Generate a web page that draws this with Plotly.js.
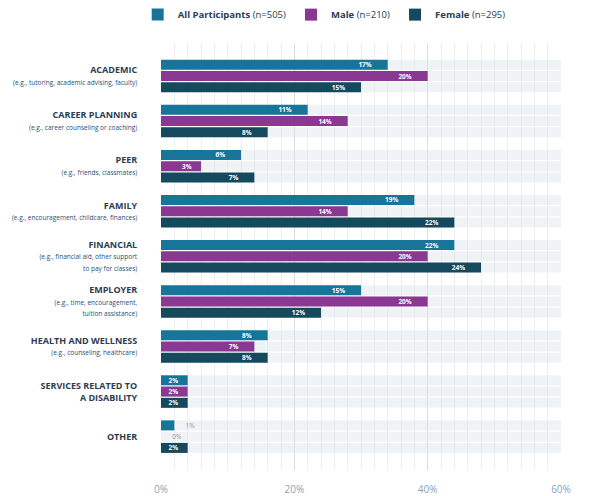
<!DOCTYPE html>
<html>
<head>
<meta charset="utf-8">
<script src="https://cdn.plot.ly/plotly-3.0.1.min.js"></script>
<style>
  html, body { margin: 0; padding: 0; background: #fff; }
  #chart { width: 595px; height: 496px; }
</style>
</head>
<body>
<div id="chart"></div>
<script>
// support categories, top to bottom
const categories = ['ACADEMIC', 'CAREER PLANNING', 'PEER', 'FAMILY', 'FINANCIAL',
  'EMPLOYER', 'HEALTH AND WELLNESS', 'SERVICES RELATED TO A DISABILITY', 'OTHER'];
const titleLines = ['ACADEMIC', 'CAREER PLANNING', 'PEER', 'FAMILY', 'FINANCIAL',
  'EMPLOYER', 'HEALTH AND WELLNESS', 'SERVICES RELATED TO<br>A DISABILITY', 'OTHER'];
const subLabels = [
  '(e.g., tutoring, academic advising, faculty)',
  '(e.g., career counseling or coaching)',
  '(e.g., friends, classmates)',
  '(e.g., encouragement, childcare, finances)',
  '(e.g., financial aid, other support<br>to pay for classes)',
  '(e.g., time, encouragement,<br>tuition assistance)',
  '(e.g., counseling, healthcare)',
  '',
  '',
];

// percent values
const allParticipants = [17, 11, 6, 19, 22, 15, 8, 2, 1];
const male = [20, 14, 3, 14, 20, 20, 7, 2, 0];
const female = [15, 8, 7, 22, 24, 12, 8, 2, 2];

const seriesNames = ['<b>All Participants</b> (n=505)', '<b>Male</b> (n=210)', '<b>Female</b> (n=295)'];
const seriesColors = ['#17759a', '#8a3891', '#15495e'];

// x axis: bars run 0-30, ticks are labelled like the original
const xMax = 30;
const tickVals = [0, 10, 20, 30];
const tickText = ['0%', '20%', '40%', '60%'];

const ticktext = categories.map((c, i) => {
  let s = `<b>${titleLines[i]}</b>`;
  if (subLabels[i]) {
    s += `<br><span style="font-size:6.5px;color:#24507a">${subLabels[i]}</span>`;
  }
  return s;
});

const barWidth = 0.222;
const offsets = [-0.361, -0.111, 0.139];

const labelFor = (v) => {
  if (v < 2) return `\u2003\u00a0${v}%`;
  if (v < 5) return `${v}%\u2003`;
  return `${v}%\u2003\u2003`;
};

const traces = [];

// light track behind every bar
offsets.forEach((off) => {
  traces.push({
    type: 'bar',
    orientation: 'h',
    y: categories,
    x: categories.map(() => xMax),
    offset: off,
    width: barWidth,
    marker: { color: 'rgba(222,228,232,0.45)' },
    hoverinfo: 'skip',
    showlegend: false,
  });
});

[allParticipants, male, female].forEach((vals, i) => {
  traces.push({
    type: 'bar',
    orientation: 'h',
    name: seriesNames[i],
    y: categories,
    x: vals,
    offset: offsets[i],
    width: barWidth,
    marker: { color: seriesColors[i] },
    text: vals.map(labelFor),
    textposition: vals.map((v) => (v < 2 ? 'outside' : 'inside')),
    insidetextanchor: 'end',
    constraintext: 'none',
    insidetextfont: { color: '#ffffff', size: 6.5, weight: 'bold' },
    outsidetextfont: { color: '#8c96a2', size: 6.5 },
    cliponaxis: false,
  });
});

const layout = {
  width: 595,
  height: 496,
  margin: { l: 161, r: 34, t: 44, b: 26, autoexpand: false },
  paper_bgcolor: '#ffffff',
  plot_bgcolor: '#ffffff',
  font: { family: 'Open Sans, sans-serif', color: '#2b3d52' },
  barmode: 'overlay',
  showlegend: true,
  legend: {
    orientation: 'h',
    x: 0.408,
    xanchor: 'center',
    y: 1.103,
    yanchor: 'top',
    font: { size: 9.5, color: '#2b3d52' },
    itemclick: false,
  },
  xaxis: {
    range: [0, xMax],
    tickmode: 'array',
    tickvals: tickVals,
    ticktext: tickText,
    showgrid: true,
    gridcolor: '#d9dde0',
    gridwidth: 1,
    zeroline: false,
    showline: false,
    ticks: 'outside',
    ticklen: 10,
    tickcolor: 'rgba(0,0,0,0)',
    tickfont: { size: 10, color: '#8c9fb8' },
    minor: { tickmode: 'linear', dtick: 1, showgrid: true, gridcolor: '#eceff1', gridwidth: 1 },
    automargin: false,
    fixedrange: true,
  },
  yaxis: {
    type: 'category',
    range: [8.74, -0.71],
    tickmode: 'array',
    tickvals: categories,
    ticktext: ticktext,
    ticks: 'outside',
    ticklen: 21,
    tickcolor: 'rgba(0,0,0,0)',
    tickfont: { size: 9, color: '#2b3d52' },
    showgrid: false,
    zeroline: false,
    showline: false,
    automargin: false,
    fixedrange: true,
  },
};

Plotly.newPlot('chart', traces, layout, { displayModeBar: false, staticPlot: true });
</script>
</body>
</html>
